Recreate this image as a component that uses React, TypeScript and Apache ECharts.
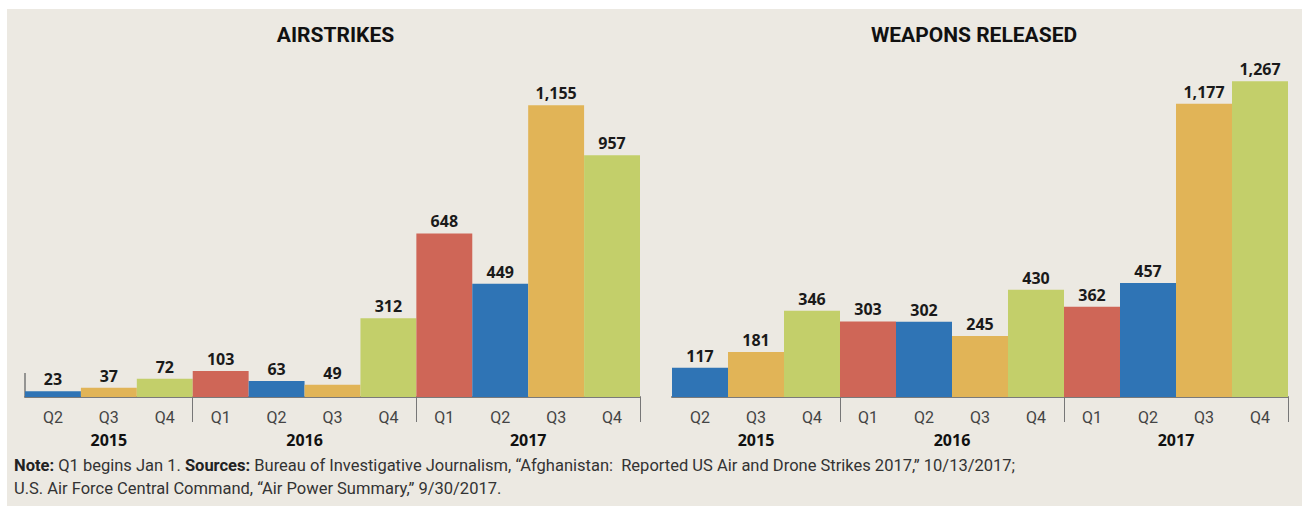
import React, { useEffect, useRef } from "react";
import * as echarts from "echarts";

const quarters = ["Q2", "Q3", "Q4", "Q1", "Q2", "Q3", "Q4", "Q1", "Q2", "Q3", "Q4"];
const years = ["2015", "2015", "2015", "2016", "2016", "2016", "2016", "2017", "2017", "2017", "2017"];
const airstrikes = [23, 37, 72, 103, 63, 49, 312, 648, 449, 1155, 957];
const weapons = [117, 181, 346, 303, 302, 245, 430, 362, 457, 1177, 1267];
const titles = ["AIRSTRIKES", "WEAPONS RELEASED"];
const quarterColors: Record<string, string> = {
  Q1: "#CF6657",
  Q2: "#2F74B5",
  Q3: "#E1B457",
  Q4: "#C3CF6A",
};
const noteLine1 =
  "{b|Note:} Q1 begins Jan 1. {b|Sources:} Bureau of Investigative Journalism, \u201cAfghanistan:  Reported US Air and Drone Strikes 2017,\u201d 10/13/2017;";
const noteLine2 = "U.S. Air Force Central Command, \u201cAir Power Summary,\u201d 9/30/2017.";

const FONT = "'Liberation Sans Narrow', 'Roboto', 'DejaVu Sans Condensed', sans-serif";
const BOLD_FONT = "'Open Sans', 'Roboto', sans-serif";
const TITLE_FONT = "'Roboto', 'Liberation Sans', sans-serif";

const grids = [
  { left: 25, top: 94, width: 615, height: 303, max: 1200 },
  { left: 672, top: 73, width: 616, height: 324, max: 1300 },
];

function yearGroups() {
  const groups: { year: string; start: number; count: number }[] = [];
  years.forEach((y, i) => {
    const last = groups[groups.length - 1];
    if (last && last.year === y) last.count += 1;
    else groups.push({ year: y, start: i, count: 1 });
  });
  return groups;
}

export default function App() {
  const ref = useRef<HTMLDivElement>(null);
  useEffect(() => {
    if (!ref.current) return;
    const chart = echarts.init(ref.current, null, { renderer: "svg" });
    const datasets = [airstrikes, weapons];
    const groups = yearGroups();
    const graphics: any[] = [
      {
        type: "rect",
        shape: { x: 7, y: 9, width: 1295, height: 497 },
        style: { fill: "#ECE9E2" },
        z: -10,
        silent: true,
      },
      {
        type: "line",
        shape: { x1: 25, y1: 373, x2: 25, y2: 397 },
        style: { stroke: "#777", lineWidth: 1.5 },
      },
      {
        type: "text",
        x: 14,
        y: 465,
        style: {
          text: noteLine1,
          font: `16.5px ${FONT}`,
          fill: "#333",
          verticalAlign: "middle",
          rich: { b: { fontWeight: "bold", fontSize: 16.5, fontFamily: FONT, fill: "#222" } },
        },
      },
      {
        type: "text",
        x: 14,
        y: 488,
        style: { text: noteLine2, font: `16.5px ${FONT}`, fill: "#333", verticalAlign: "middle" },
      },
    ];
    grids.forEach((g, gi) => {
      graphics.push({
        type: "text",
        x: g.left + g.width / 2 + (gi === 0 ? 3 : -6),
        y: 35,
        style: {
          text: titles[gi],
          font: `bold 21px ${TITLE_FONT}`,
          fill: "#111",
          align: "center",
          verticalAlign: "middle",
        },
      });
      groups.forEach((grp) => {
        graphics.push({
          type: "text",
          x: g.left + (g.width * (grp.start + grp.count / 2)) / quarters.length,
          y: 440,
          style: {
            text: grp.year,
            font: `bold 16px ${BOLD_FONT}`,
            fill: "#111",
            align: "center",
            verticalAlign: "middle",
          },
        });
      });
    });

    chart.setOption({
      animation: false,
      backgroundColor: "#ffffff",
      grid: grids.map((g) => ({ left: g.left, top: g.top, width: g.width, height: g.height })),
      xAxis: grids.map((_, gi) => ({
        type: "category",
        gridIndex: gi,
        data: quarters,
        boundaryGap: true,
        axisLine: { show: true, lineStyle: { color: "#7a7a7a", width: 2 } },
        axisTick: {
          show: true,
          length: 25,
          interval: (index: number) => index > 0 && years[index] !== years[index - 1],
          lineStyle: { color: "#777", width: 1 },
        },
        axisLabel: {
          interval: 0,
          margin: 12,
          fontSize: 16,
          color: "#444",
          fontFamily: FONT,
        },
      })),
      yAxis: grids.map((g, gi) => ({
        type: "value",
        gridIndex: gi,
        min: 0,
        max: g.max,
        show: false,
        splitLine: { show: false },
      })),
      series: datasets.map((d, gi) => ({
        type: "bar",
        xAxisIndex: gi,
        yAxisIndex: gi,
        barCategoryGap: "0%",
        data: d.map((v, i) => ({ value: v, itemStyle: { color: quarterColors[quarters[i]] } })),
        label: {
          show: true,
          position: "top",
          distance: 4,
          fontSize: 16,
          fontWeight: "bold",
          color: "#1a1a1a",
          fontFamily: BOLD_FONT,
          formatter: (p: any) => Number(p.value).toLocaleString("en-US"),
        },
      })),
      graphic: graphics,
    });
    return () => chart.dispose();
  }, []);
  return (
    <div
      ref={ref}
      style={{ position: "fixed", left: 0, top: 0, width: 1302, height: 506 }}
    />
  );
}
